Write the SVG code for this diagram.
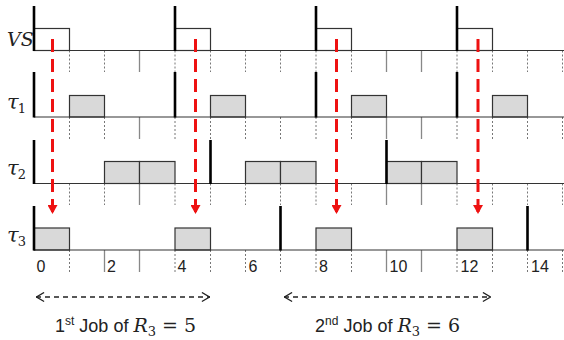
<svg xmlns="http://www.w3.org/2000/svg" width="564" height="340" viewBox="0 0 564 340">
<defs>
<style>
.axis{stroke:#333;stroke-width:1.2;fill:none}
.rel{stroke:#000;stroke-width:2.6;fill:none}
.tk{stroke:#777;stroke-width:1;stroke-dasharray:2,2;fill:none}
.ts{stroke:#888;stroke-width:1.3;fill:none}
.box{fill:#d9d9d9;stroke:#333;stroke-width:1.2}
.vsbox{fill:none;stroke:#333;stroke-width:1.2}
.red{stroke:#ee1111;stroke-width:3;stroke-dasharray:13,7;fill:none}
.lbl{font-family:"Liberation Sans",Arial,sans-serif;font-size:16px;fill:#222}
.math{font-family:"DejaVu Serif","Liberation Serif",serif;font-style:italic;fill:#222}
.sub{font-style:normal}
.txt{font-family:"Liberation Sans",Arial,sans-serif;font-size:18px;fill:#222}
.dbl{stroke:#222;stroke-width:1.3;stroke-dasharray:5,4;fill:none}
</style>
<marker id="ah" viewBox="0 0 10 10" refX="5" refY="9" markerWidth="10" markerHeight="10" markerUnits="userSpaceOnUse" orient="0">
<path d="M0,0 L10,0 L5,9 Z" fill="#ee1111"/>
</marker>
<marker id="chev" viewBox="0 0 10 12" refX="10" refY="6" markerWidth="9" markerHeight="11" markerUnits="userSpaceOnUse" orient="auto-start-reverse">
<path d="M1,1 L9.5,6 L1,11" fill="none" stroke="#222" stroke-width="1.5"/>
</marker>
</defs>
<rect width="564" height="340" fill="#fff"/>

<g id="ticks">
<path class="tk" d="M69.5,50.5V72 M104.5,50.5V72 M175,50.5V72 M210.5,50.5V72 M245.5,50.5V72 M280.5,50.5V72 M316,50.5V72 M351.5,50.5V72 M457,50.5V72 M492.5,50.5V72 M527.5,50.5V72 M562.5,50.5V72"/>
<path class="ts" d="M139.5,50.5V72 M386.5,50.5V72 M421.5,50.5V72"/>
<path class="tk" d="M69.5,117V139 M104.5,117V139 M175,117V139 M210.5,117V139 M245.5,117V139 M280.5,117V139 M316,117V139 M351.5,117V139 M457,117V139 M492.5,117V139 M527.5,117V139 M562.5,117V139"/>
<path class="ts" d="M139.5,117V139 M386.5,117V139 M421.5,117V139"/>
<path class="tk" d="M69.5,183.5V205 M104.5,183.5V205 M175,183.5V205 M210.5,183.5V205 M245.5,183.5V205 M280.5,183.5V205 M316,183.5V205 M351.5,183.5V205 M457,183.5V205 M492.5,183.5V205 M527.5,183.5V205 M562.5,183.5V205"/>
<path class="ts" d="M139.5,183.5V205 M386.5,183.5V205 M421.5,183.5V205"/>
<path class="tk" d="M69.5,250V272 M175,250V272 M210.5,250V272 M245.5,250V272 M280.5,250V272 M316,250V272 M351.5,250V272 M457,250V272 M492.5,250V272 M527.5,250V272 M562.5,250V272"/>
<path class="ts" d="M104.5,250V272 M139.5,250V272 M386.5,250V272 M421.5,250V272"/>
</g>

<g id="row-vs">
<text class="math" x="7" y="46" font-size="19">VS</text>
<rect class="vsbox" x="34" y="28.5" width="35.5" height="22"/>
<rect class="vsbox" x="175" y="28.5" width="35.5" height="22"/>
<rect class="vsbox" x="316" y="28.5" width="35.5" height="22"/>
<rect class="vsbox" x="457" y="28.5" width="35.5" height="22"/>
<line class="axis" x1="34" y1="50.5" x2="564" y2="50.5"/>
<path class="rel" d="M34,6V51 M175,6V51 M316,6V51 M457,6V51"/>
</g>

<g id="row-t1">
<text class="math" x="7" y="109" font-size="21">τ<tspan class="sub" font-size="13" dx="-1" dy="4">1</tspan></text>
<rect class="box" x="69.5" y="95.5" width="35" height="21.5"/>
<rect class="box" x="210.5" y="95.5" width="35" height="21.5"/>
<rect class="box" x="351.5" y="95.5" width="35" height="21.5"/>
<rect class="box" x="492.5" y="95.5" width="35" height="21.5"/>
<line class="axis" x1="34" y1="117" x2="564" y2="117"/>
<path class="rel" d="M34,72V117.5 M175,72V117.5 M316,72V117.5 M457,72V117.5"/>
</g>

<g id="row-t2">
<text class="math" x="7" y="175" font-size="21">τ<tspan class="sub" font-size="13" dx="-1" dy="4">2</tspan></text>
<rect class="box" x="104.5" y="161.5" width="35" height="22"/>
<rect class="box" x="139.5" y="161.5" width="35.5" height="22"/>
<rect class="box" x="245.5" y="161.5" width="35" height="22"/>
<rect class="box" x="280.5" y="161.5" width="35.5" height="22"/>
<rect class="box" x="386.5" y="161.5" width="35" height="22"/>
<rect class="box" x="421.5" y="161.5" width="35.5" height="22"/>
<line class="axis" x1="34" y1="183.5" x2="564" y2="183.5"/>
<path class="rel" d="M34,140V184"/>
<path class="rel" stroke-width="2" d="M210.5,140V184 M386.5,140V184"/>
</g>

<g id="row-t3">
<text class="math" x="7" y="242" font-size="21">τ<tspan class="sub" font-size="13" dx="-1" dy="4">3</tspan></text>
<rect class="box" x="34" y="228" width="35.5" height="22"/>
<rect class="box" x="175" y="228" width="35.5" height="22"/>
<rect class="box" x="316" y="228" width="35.5" height="22"/>
<rect class="box" x="457" y="228" width="35.5" height="22"/>
<line class="axis" x1="34" y1="250" x2="564" y2="250"/>
<path class="rel" d="M34,206V250.5 M280.5,206V250.5 M527.5,206V250.5"/>
</g>

<g id="labels">
<text class="lbl" x="36.5" y="271.5">0</text>
<text class="lbl" x="107" y="271.5">2</text>
<text class="lbl" x="177.5" y="271.5">4</text>
<text class="lbl" x="248.5" y="271.5">6</text>
<text class="lbl" x="319" y="271.5">8</text>
<text class="lbl" x="389.5" y="271.5">10</text>
<text class="lbl" x="460.5" y="271.5">12</text>
<text class="lbl" x="531" y="271.5">14</text>
</g>

<g id="connectors">
<line class="red" x1="52.5" y1="39" x2="52.5" y2="214" marker-end="url(#ah)"/>
<line class="red" x1="195.5" y1="39" x2="195.5" y2="214" marker-end="url(#ah)"/>
<line class="red" x1="336.5" y1="39" x2="336.5" y2="214" marker-end="url(#ah)"/>
<line class="red" x1="478" y1="39" x2="478" y2="214" marker-end="url(#ah)"/>
<line class="dbl" x1="36" y1="297" x2="210" y2="297" marker-start="url(#chev)" marker-end="url(#chev)"/>
<line class="dbl" x1="284" y1="297" x2="491" y2="297" marker-start="url(#chev)" marker-end="url(#chev)"/>
</g>

<g id="captions">
<text class="txt" x="55" y="332">1<tspan font-size="12" dy="-7">st</tspan><tspan dy="7"> Job of </tspan><tspan class="math" font-size="19">R</tspan><tspan class="math sub" font-size="13" dy="4">3</tspan><tspan class="math sub" font-size="19" dy="-4"> = 5</tspan></text>
<text class="txt" x="315" y="332">2<tspan font-size="12" dy="-7">nd</tspan><tspan dy="7"> Job of </tspan><tspan class="math" font-size="19">R</tspan><tspan class="math sub" font-size="13" dy="4">3</tspan><tspan class="math sub" font-size="19" dy="-4"> = 6</tspan></text>
</g>
</svg>
